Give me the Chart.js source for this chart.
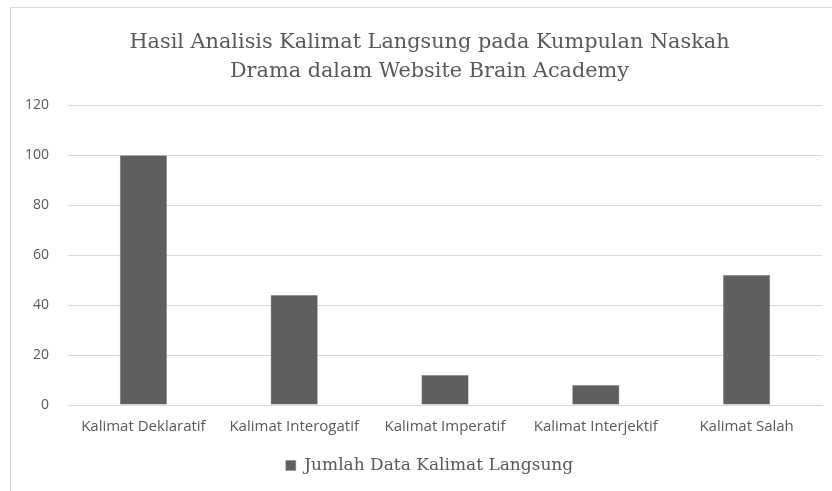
<!DOCTYPE html>
<html>
<head>
<meta charset="utf-8">
<script src="https://cdn.jsdelivr.net/npm/chart.js@4.4.1/dist/chart.umd.min.js"></script>
<style>
  html, body { margin: 0; padding: 0; background: #fff; overflow: hidden; }
  #wrap {
    position: absolute; left: 10px; top: 7px;
    width: 834px; height: 490px;
    border: 1px solid #d9d9d9; box-sizing: border-box;
  }
</style>
</head>
<body>
<div id="wrap"><canvas id="chart"></canvas></div>
<script>
// data
const categories = [
  'Kalimat Deklaratif',
  'Kalimat Interogatif',
  'Kalimat Imperatif',
  'Kalimat Interjektif',
  'Kalimat Salah'
];
const jumlahData = [100, 44, 12, 8, 52];
const seriesName = 'Jumlah Data Kalimat Langsung';
const titleLines = [
  'Hasil Analisis Kalimat Langsung pada Kumpulan Naskah',
  'Drama dalam Website Brain Academy'
];
const yTicks = [0, 20, 40, 60, 80, 100, 120];

const gray = '#595959';
const sans = "'Open Sans', sans-serif";
const serif = "'DejaVu Serif', serif";

new Chart(document.getElementById('chart'), {
  type: 'bar',
  data: {
    labels: categories,
    datasets: [{
      label: seriesName,
      data: jumlahData,
      backgroundColor: '#5f5f5f',
      borderColor: '#8a8a8a',
      borderWidth: 0.5,
      categoryPercentage: 1,
      barPercentage: 0.313
    }]
  },
  options: {
    responsive: true,
    maintainAspectRatio: false,
    animation: false,
    // left padding pushes title + legend centre to the right like the original
    layout: { padding: { left: 26, right: 21, top: 0, bottom: 12 } },
    plugins: {
      title: {
        display: true,
        text: titleLines,
        color: gray,
        font: { family: serif, size: 20.8, weight: 'normal', lineHeight: 1.35 },
        padding: { top: 21, bottom: 20 }
      },
      legend: {
        position: 'bottom',
        labels: {
          color: gray,
          font: { family: serif, size: 17 },
          boxWidth: 10,
          boxHeight: 10,
          padding: 10
        }
      },
      tooltip: { enabled: false }
    },
    scales: {
      x: {
        grid: { display: false, drawTicks: false },
        border: { color: '#d9d9d9' },
        ticks: { color: gray, font: { family: sans, size: 15 }, padding: 13, maxRotation: 0 },
        afterFit: s => { s.height = 42; }
      },
      y: {
        min: yTicks[0],
        max: yTicks[yTicks.length - 1],
        afterBuildTicks: s => { s.ticks = yTicks.map(v => ({ value: v })); },
        grid: { color: '#d9d9d9', drawTicks: false },
        border: { display: false },
        ticks: { color: gray, font: { family: sans, size: 14 }, padding: 19 },
        afterFit: s => {
          s.width = 31;
          // labels sit partly in the layout padding, so don't clip them
          s._computeLabelArea = () => undefined;
        }
      }
    }
  }
});
</script>
</body>
</html>
